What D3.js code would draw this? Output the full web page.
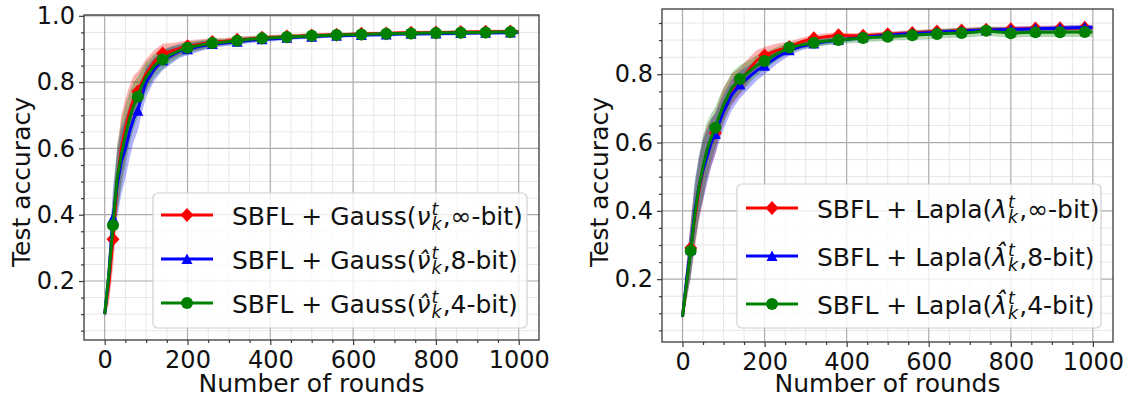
<!DOCTYPE html>
<html>
<head>
<meta charset="utf-8">
<script src="https://cdn.jsdelivr.net/npm/d3@7"></script>
<style>
  body { margin: 0; background: #fff; }
  svg { display: block; }
</style>
</head>
<body>
<div id="chart"></div>
<script>
const rounds = [0, 10, 20, 30, 40, 50, 60, 70, 80, 90, 100, 120, 140, 160, 180, 200,
  230, 260, 290, 320, 350, 380, 410, 440, 470, 500, 530, 560, 590, 620, 650, 680,
  710, 740, 770, 800, 830, 860, 890, 920, 950, 980, 999];

// left panel: Gauss
const gaussInf = [0.10, 0.19, 0.326, 0.50, 0.60, 0.66, 0.71, 0.75, 0.772, 0.80, 0.825, 0.862, 0.886, 0.893, 0.901, 0.908,
  0.914, 0.921, 0.923, 0.928, 0.93, 0.934, 0.935, 0.938, 0.939, 0.941, 0.942, 0.943, 0.944, 0.946, 0.946, 0.947,
  0.948, 0.949, 0.949, 0.95, 0.95, 0.951, 0.951, 0.952, 0.952, 0.953, 0.953];
const gauss8 = [0.10, 0.22, 0.39, 0.49, 0.56, 0.60, 0.65, 0.69, 0.714, 0.76, 0.80, 0.84, 0.866, 0.88, 0.893, 0.899,
  0.908, 0.915, 0.918, 0.922, 0.926, 0.929, 0.931, 0.934, 0.936, 0.937, 0.939, 0.94, 0.941, 0.942, 0.943, 0.944,
  0.945, 0.946, 0.946, 0.947, 0.947, 0.948, 0.948, 0.949, 0.949, 0.95, 0.95];
const gauss4 = [0.10, 0.22, 0.368, 0.51, 0.58, 0.64, 0.69, 0.73, 0.756, 0.79, 0.815, 0.85, 0.868, 0.884, 0.895, 0.904,
  0.911, 0.918, 0.921, 0.925, 0.929, 0.932, 0.934, 0.936, 0.938, 0.94, 0.941, 0.942, 0.943, 0.944, 0.945, 0.946,
  0.947, 0.947, 0.948, 0.948, 0.949, 0.949, 0.95, 0.95, 0.951, 0.951, 0.951];
const gaussSpread = [0.01, 0.06, 0.09, 0.1, 0.1, 0.09, 0.08, 0.07, 0.06, 0.05, 0.045, 0.035, 0.03, 0.025, 0.02, 0.018,
  0.015, 0.012, 0.01, 0.01, 0.009, 0.008, 0.008, 0.007, 0.007, 0.007, 0.006, 0.006, 0.006, 0.006, 0.006, 0.006,
  0.006, 0.006, 0.006, 0.006, 0.006, 0.006, 0.006, 0.006, 0.006, 0.006, 0.006];

// right panel: Laplace
const laplaInf = [0.09, 0.19, 0.291, 0.38, 0.46, 0.52, 0.57, 0.60, 0.628, 0.67, 0.71, 0.755, 0.78, 0.81, 0.84, 0.855,
  0.87, 0.88, 0.895, 0.905, 0.91, 0.914, 0.913, 0.913, 0.915, 0.917, 0.919, 0.921, 0.923, 0.925, 0.926, 0.928,
  0.929, 0.93, 0.931, 0.932, 0.933, 0.934, 0.934, 0.935, 0.935, 0.936, 0.936];
const lapla8 = [0.09, 0.2, 0.286, 0.40, 0.47, 0.52, 0.56, 0.60, 0.625, 0.66, 0.69, 0.74, 0.77, 0.79, 0.81, 0.825,
  0.85, 0.87, 0.882, 0.89, 0.896, 0.9, 0.904, 0.908, 0.911, 0.914, 0.917, 0.919, 0.921, 0.923, 0.925, 0.926,
  0.928, 0.929, 0.93, 0.931, 0.932, 0.933, 0.934, 0.935, 0.936, 0.937, 0.937];
const lapla4 = [0.09, 0.19, 0.283, 0.39, 0.47, 0.53, 0.58, 0.615, 0.643, 0.68, 0.71, 0.76, 0.786, 0.805, 0.825, 0.839,
  0.86, 0.878, 0.886, 0.892, 0.897, 0.9, 0.903, 0.906, 0.908, 0.91, 0.912, 0.914, 0.916, 0.918, 0.92, 0.921,
  0.923, 0.927, 0.924, 0.92, 0.922, 0.923, 0.923, 0.923, 0.924, 0.924, 0.924];
const laplaSpread = [0.01, 0.05, 0.08, 0.09, 0.09, 0.09, 0.08, 0.07, 0.06, 0.055, 0.05, 0.045, 0.04, 0.035, 0.03, 0.025,
  0.02, 0.015, 0.012, 0.01, 0.01, 0.009, 0.008, 0.008, 0.008, 0.008, 0.008, 0.008, 0.008, 0.008, 0.008, 0.008,
  0.008, 0.008, 0.008, 0.008, 0.008, 0.008, 0.008, 0.008, 0.008, 0.008, 0.008];
const laplaSpread4 = [0.01, 0.05, 0.08, 0.09, 0.09, 0.09, 0.08, 0.07, 0.06, 0.055, 0.05, 0.045, 0.04, 0.035, 0.03, 0.025,
  0.02, 0.015, 0.012, 0.012, 0.012, 0.012, 0.012, 0.012, 0.012, 0.012, 0.012, 0.014, 0.014, 0.014, 0.014, 0.014,
  0.014, 0.014, 0.014, 0.014, 0.014, 0.014, 0.014, 0.014, 0.015, 0.015, 0.015];

const xTicks = [0, 200, 400, 600, 800, 1000];
const gaussYTicks = [0.2, 0.4, 0.6, 0.8, 1.0];
const laplaYTicks = [0.2, 0.4, 0.6, 0.8];

const gaussLegend = [
  { pre: "SBFL + Gauss(", sym: "ν", post: ",∞-bit)" },
  { pre: "SBFL + Gauss(", sym: "ν\u0302", post: ",8-bit)" },
  { pre: "SBFL + Gauss(", sym: "ν\u0302", post: ",4-bit)" }
];
const laplaLegend = [
  { pre: "SBFL + Lapla(", sym: "λ", post: ",∞-bit)" },
  { pre: "SBFL + Lapla(", sym: "λ\u0302", post: ",8-bit)" },
  { pre: "SBFL + Lapla(", sym: "λ\u0302", post: ",4-bit)" }
];

const colors = ["#ff0000", "#0000ff", "#008000"];
const markers = ["diamond", "triangle", "circle"];

const width = 1125;
const height = 399;
const fontFamily = "DejaVu Sans, sans-serif";
const xDomain = [-50, 1049];

const svg = d3.select("#chart").append("svg")
  .attr("width", width)
  .attr("height", height)
  .attr("viewBox", [0, 0, width, height])
  .attr("font-family", fontFamily);

function markerPath(kind) {
  if (kind === "diamond") return "M0,-7L6.5,0L0,7L-6.5,0Z";
  if (kind === "triangle") return "M0,-5.5L5.5,5L-5.5,5Z";
  return d3.symbol(d3.symbolCircle, Math.PI * 36)();
}

// width of a bit of text, measured with a throwaway element
function textWidth(str, size, italic) {
  const t = svg.append("text").attr("font-size", size)
    .attr("font-style", italic ? "italic" : "normal").text(str);
  const w = t.node().getComputedTextLength();
  t.remove();
  return w;
}

function drawPanel(cfg) {
  const x = d3.scaleLinear().domain(xDomain).range([cfg.left, cfg.right]);
  const y = d3.scaleLinear().domain(cfg.yDomain).range([cfg.bottom, cfg.top]);
  const g = svg.append("g");

  const xMinor = d3.range(-50, 1050, 50).filter(v => v % 200 !== 0 && v > xDomain[0] && v < xDomain[1]);
  const yMinor = d3.range(0, 21).map(i => i / 20)
    .filter(v => Math.round(v * 20) % 4 !== 0 && v > cfg.yDomain[0] && v < cfg.yDomain[1]);

  // grid
  const grid = g.append("g").attr("fill", "none");
  grid.selectAll(".xm").data(xMinor).join("line")
    .attr("x1", x).attr("x2", x).attr("y1", cfg.top).attr("y2", cfg.bottom)
    .attr("stroke", "#e6e6e6").attr("stroke-width", 1);
  grid.selectAll(".ym").data(yMinor).join("line")
    .attr("y1", y).attr("y2", y).attr("x1", cfg.left).attr("x2", cfg.right)
    .attr("stroke", "#e6e6e6").attr("stroke-width", 1);
  grid.selectAll(".xM").data(xTicks).join("line")
    .attr("x1", x).attr("x2", x).attr("y1", cfg.top).attr("y2", cfg.bottom)
    .attr("stroke", "#ababab").attr("stroke-width", 1.2);
  grid.selectAll(".yM").data(cfg.yTicks).join("line")
    .attr("y1", y).attr("y2", y).attr("x1", cfg.left).attr("x2", cfg.right)
    .attr("stroke", "#ababab").attr("stroke-width", 1.2);

  svg.append("clipPath").attr("id", cfg.id + "-clip")
    .append("rect")
    .attr("x", cfg.left).attr("y", cfg.top)
    .attr("width", cfg.right - cfg.left).attr("height", cfg.bottom - cfg.top);

  const plot = g.append("g").attr("clip-path", `url(#${cfg.id}-clip)`);

  // shaded bands
  cfg.series.forEach((s, i) => {
    const area = d3.area()
      .x(r => x(r))
      .y0((r, j) => y(s.values[j] - s.spread[j]))
      .y1((r, j) => y(s.values[j] + s.spread[j]));
    plot.append("path")
      .attr("d", area(rounds))
      .attr("fill", colors[i])
      .attr("fill-opacity", 0.3);
  });

  // lines + markers
  cfg.series.forEach((s, i) => {
    const line = d3.line().x(r => x(r)).y((r, j) => y(s.values[j]));
    plot.append("path")
      .attr("d", line(rounds))
      .attr("fill", "none")
      .attr("stroke", colors[i])
      .attr("stroke-width", 3)
      .attr("stroke-linejoin", "round");

    const marked = rounds.map((r, j) => ({ r, v: s.values[j] }))
      .filter(d => d.r >= 20 && (d.r - 20) % 60 === 0);
    plot.selectAll(null).data(marked).join("path")
      .attr("d", markerPath(markers[i]))
      .attr("transform", d => `translate(${x(d.r)},${y(d.v)})`)
      .attr("fill", colors[i]);
  });

  // frame
  g.append("rect")
    .attr("x", cfg.left).attr("y", cfg.top)
    .attr("width", cfg.right - cfg.left).attr("height", cfg.bottom - cfg.top)
    .attr("fill", "none").attr("stroke", "#3a3a3a").attr("stroke-width", 1.3);

  // axes
  const styleAxis = sel => {
    sel.select(".domain").remove();
    sel.selectAll("line").attr("stroke", "#3a3a3a").attr("stroke-width", 1.2);
    sel.selectAll("text").attr("fill", "#111").attr("font-size", 24).attr("font-family", fontFamily);
  };
  g.append("g").attr("transform", `translate(0,${cfg.bottom})`)
    .call(d3.axisBottom(x).tickValues(xMinor).tickSize(3).tickFormat(""))
    .call(styleAxis);
  g.append("g").attr("transform", `translate(0,${cfg.bottom})`)
    .call(d3.axisBottom(x).tickValues(xTicks).tickSize(5).tickPadding(6).tickFormat(d3.format("d")))
    .call(styleAxis);
  g.append("g").attr("transform", `translate(${cfg.left},0)`)
    .call(d3.axisLeft(y).tickValues(yMinor).tickSize(3).tickFormat(""))
    .call(styleAxis);
  g.append("g").attr("transform", `translate(${cfg.left},0)`)
    .call(d3.axisLeft(y).tickValues(cfg.yTicks).tickSize(5).tickPadding(4).tickFormat(d3.format(".1f")))
    .call(styleAxis);

  // axis labels
  g.append("text")
    .attr("x", (cfg.left + cfg.right) / 2).attr("y", 392)
    .attr("text-anchor", "middle").attr("font-size", 25).attr("fill", "#111")
    .text("Number of rounds");
  g.append("text")
    .attr("transform", `translate(${cfg.yLabelX},182) rotate(-90)`)
    .attr("text-anchor", "middle").attr("font-size", 25).attr("fill", "#111")
    .text("Test accuracy");

  // legend
  const lg = cfg.legend;
  g.append("rect")
    .attr("x", lg.x0).attr("y", lg.y0)
    .attr("width", lg.x1 - lg.x0).attr("height", lg.y1 - lg.y0)
    .attr("rx", 5)
    .attr("fill", "#fff").attr("fill-opacity", 0.8)
    .attr("stroke", "#d0d0d0").attr("stroke-width", 1.2);

  const fs = 25, small = 17.5;
  cfg.labels.forEach((lab, i) => {
    const cy = lg.rows[i];
    const row = g.append("g");
    row.append("line")
      .attr("x1", lg.handle[0]).attr("x2", lg.handle[1])
      .attr("y1", cy).attr("y2", cy)
      .attr("stroke", colors[i]).attr("stroke-width", 3);
    row.append("path")
      .attr("d", markerPath(markers[i]))
      .attr("transform", `translate(${(lg.handle[0] + lg.handle[1]) / 2},${cy})`)
      .attr("fill", colors[i]);

    // mathtext-like label: sym with superscript t over subscript k
    const supW = textWidth("t", small, true);
    const subW = textWidth("k", small, true);
    const t = row.append("text").attr("x", lg.textX).attr("y", cy + 9.5)
      .attr("font-size", fs).attr("fill", "#111");
    t.append("tspan").text(lab.pre);
    t.append("tspan").attr("font-style", "italic").text(lab.sym);
    t.append("tspan").attr("font-style", "italic").attr("font-size", small)
      .attr("dx", 1).attr("dy", -10).text("t");
    t.append("tspan").attr("font-style", "italic").attr("font-size", small)
      .attr("dx", -supW).attr("dy", 15).text("k");
    t.append("tspan").attr("dx", Math.max(0, supW - subW) + 1).attr("dy", -5).text(lab.post);
  });
}

drawPanel({
  id: "gauss",
  left: 84, right: 539, top: 15, bottom: 340,
  yDomain: [0.022, 1.0025],
  yTicks: gaussYTicks,
  yLabelX: 30,
  series: [
    { values: gaussInf, spread: gaussSpread },
    { values: gauss8, spread: gaussSpread },
    { values: gauss4, spread: gaussSpread }
  ],
  labels: gaussLegend,
  legend: { x0: 153, y0: 193, x1: 527, y1: 328, rows: [215, 259, 303], handle: [161, 213], textX: 232 }
});

drawPanel({
  id: "lapla",
  left: 662, right: 1113, top: 9, bottom: 342,
  yDomain: [0.016, 0.991],
  yTicks: laplaYTicks,
  yLabelX: 608,
  series: [
    { values: laplaInf, spread: laplaSpread },
    { values: lapla8, spread: laplaSpread },
    { values: lapla4, spread: laplaSpread4 }
  ],
  labels: laplaLegend,
  legend: { x0: 737, y0: 184, x1: 1101, y1: 328, rows: [208, 256, 304], handle: [746, 798], textX: 817 }
});
</script>
</body>
</html>
